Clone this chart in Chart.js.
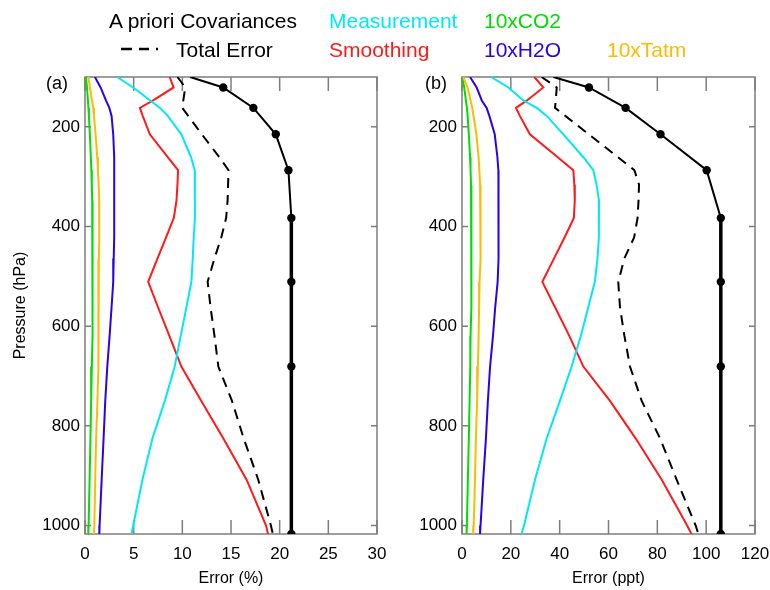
<!DOCTYPE html>
<html>
<head>
<meta charset="utf-8">
<script src="https://cdn.jsdelivr.net/npm/chart.js@4.4.1/dist/chart.umd.min.js"></script>
<style>
  body { margin: 0; background: #fff; }
  #page { position: relative; width: 770px; height: 590px; font-family: "Liberation Sans", Arial, Helvetica, sans-serif; }
  canvas { position: absolute; top: 0; }
  #chartA { left: 0; }
  #chartB { left: 385px; }
  .txt { position: absolute; white-space: nowrap; font-size: 21px; line-height: 21px; }
  .panel { position: absolute; font-size: 18px; line-height: 18px; color: #000; }
</style>
</head>
<body>
<div id="page">
  <canvas id="chartA" width="400" height="590"></canvas>
  <canvas id="chartB" width="385" height="590"></canvas>

  <div class="txt" style="left:109px; top:10px; color:#000">A priori Covariances</div>
  <div class="txt" style="left:329px; top:10px; color:#00e8f5">Measurement</div>
  <div class="txt" style="left:484px; top:10px; color:#00dd00">10xCO2</div>
  <svg style="position:absolute; left:120px; top:45px" width="42" height="8">
    <line x1="1" y1="4" x2="40" y2="4" stroke="#000" stroke-width="2.5" stroke-dasharray="11 7 10 7 2"/>
  </svg>
  <div class="txt" style="left:176px; top:39px; color:#000">Total Error</div>
  <div class="txt" style="left:329px; top:39px; color:#ff1a1a">Smoothing</div>
  <div class="txt" style="left:484px; top:39px; color:#2b00f0">10xH2O</div>
  <div class="txt" style="left:607px; top:39px; color:#ffbb00">10xTatm</div>

  <div class="panel" style="left:46px; top:74px">(a)</div>
  <div class="panel" style="left:425px; top:74px">(b)</div>
</div>
<script>
// pressure levels (hPa) shared by the error curves
const pressureLevels = [100, 121, 147, 162, 178, 215, 261, 287, 316, 348, 383, 422, 464, 511, 562, 619, 681, 750, 825, 908, 1000, 1017];
// levels of the a priori curve (marked points)
const aprioriLevels = [100, 121, 162, 215, 287, 383, 511, 681, 1017];
const pressureTicks = [200, 400, 600, 800, 1000];

// panel (a), error in %
const aprioriPct = [10.8, 14.2, 17.3, 19.6, 20.9, 21.2, 21.2, 21.2, 21.2];
const totalPct = [9.5, 10.3, 10.1, 10.0, 10.6, 12.0, 13.8, 14.75, 14.7, 14.65, 14.5, 14.0, 13.3, 12.6, 12.9, 13.3, 13.7, 15.1, 16.3, 17.8, 19.1, 19.3];
const measPct = [3.3, 4.95, 6.7, 7.7, 8.5, 9.9, 10.9, 11.27, 11.3, 11.3, 11.27, 11.17, 11.07, 10.93, 10.42, 9.84, 9.22, 8.2, 6.93, 5.9, 4.95, 4.78];
const smoothPct = [8.7, 9.1, 7.0, 5.64, 5.93, 6.66, 8.5, 9.56, 9.5, 9.4, 9.12, 8.33, 7.45, 6.49, 7.5, 8.66, 9.9, 11.95, 14.2, 16.6, 18.6, 18.8];
const co2Pct = [0.1, 0.2, 0.3, 0.35, 0.4, 0.5, 0.6, 0.65, 0.7, 0.74, 0.77, 0.79, 0.79, 0.78, 0.77, 0.76, 0.7, 0.63, 0.56, 0.47, 0.37, 0.34];
const h2oPct = [1.02, 1.6, 2.15, 2.5, 2.73, 2.9, 3.0, 3.0, 3.0, 3.0, 3.0, 3.0, 2.95, 2.9, 2.73, 2.53, 2.29, 2.08, 1.91, 1.71, 1.5, 1.47];
const tatmPct = [0.34, 0.51, 0.72, 0.85, 0.92, 1.09, 1.26, 1.33, 1.4, 1.45, 1.47, 1.45, 1.42, 1.4, 1.38, 1.37, 1.35, 1.28, 1.14, 1.05, 0.96, 0.92];
const pctTicks = [0, 5, 10, 15, 20, 25, 30];

// panel (b), error in ppt
const aprioriPpt = [37.4, 52.0, 67.0, 81.3, 100.2, 106.0, 106.0, 106.0, 106.0];
const totalPpt = [32.6, 38.8, 38.4, 38.1, 42.3, 51.9, 63.9, 70.6, 72.5, 72.3, 71.9, 70.5, 66.5, 64.0, 64.7, 66.5, 68.8, 73.6, 81.1, 87.9, 95.7, 96.8];
const measPpt = [11.9, 19.0, 25.1, 30.6, 34.7, 41.5, 49.7, 53.8, 55.1, 56.1, 56.1, 56.0, 55.5, 54.4, 51.7, 48.7, 44.9, 40.1, 34.7, 29.9, 25.4, 24.4];
const smoothPpt = [29.6, 33.3, 26.6, 22.1, 23.7, 27.8, 39.2, 45.6, 46.0, 46.2, 45.8, 42.0, 37.7, 32.9, 38.1, 43.9, 49.7, 60.6, 71.1, 81.8, 92.2, 94.0];
const co2Ppt = [0.1, 0.9, 1.6, 2.0, 2.3, 2.8, 3.3, 3.5, 3.7, 3.8, 3.9, 4.0, 3.9, 3.8, 3.7, 3.5, 3.4, 3.1, 2.8, 2.4, 2.0, 1.9];
const h2oPpt = [3.3, 6.0, 8.1, 10.1, 11.2, 13.4, 14.5, 14.9, 15.0, 15.0, 15.0, 15.0, 14.8, 14.6, 13.6, 12.7, 11.5, 10.6, 9.8, 8.7, 7.6, 7.4];
const tatmPpt = [0.5, 2.3, 3.5, 4.2, 4.7, 5.9, 6.8, 7.1, 7.4, 7.6, 7.7, 7.6, 7.5, 7.2, 7.0, 6.8, 6.5, 6.2, 5.7, 5.3, 4.8, 4.6];
const pptTicks = [0, 20, 40, 60, 80, 100, 120];

const colors = {
  apriori: "#000000",
  total: "#000000",
  meas: "#00e8f5",
  smooth: "#ff1a1a",
  co2: "#00dd00",
  h2o: "#2b00f0",
  tatm: "#ffbb00",
};

Chart.defaults.font.family = '"Liberation Sans", Arial, Helvetica, sans-serif';
Chart.defaults.color = "#000";

// frame with inward ticks on all four sides, like the original plot
const frameTicks = {
  id: "frameTicks",
  beforeDatasetsDraw(chart) {
    const { ctx, chartArea: a, scales: { x, y } } = chart;
    ctx.save();
    ctx.strokeStyle = "#7d7d7d";
    ctx.lineWidth = 1.5;
    ctx.beginPath();
    x.ticks.forEach((t) => {
      const px = x.getPixelForValue(t.value);
      ctx.moveTo(px, a.bottom); ctx.lineTo(px, a.bottom - 14);
      ctx.moveTo(px, a.top); ctx.lineTo(px, a.top + 14);
    });
    y.ticks.forEach((t) => {
      const py = y.getPixelForValue(t.value);
      ctx.moveTo(a.left, py); ctx.lineTo(a.left + 6, py);
      ctx.moveTo(a.right, py); ctx.lineTo(a.right - 6, py);
    });
    ctx.stroke();
    ctx.strokeRect(a.left, a.top, a.right - a.left, a.bottom - a.top);
    ctx.restore();
  },
};

function curve(values, levels, color, extra = {}) {
  return Object.assign({
    data: values.map((v, i) => ({ x: v, y: levels[i] })),
    borderColor: color,
    borderWidth: 2,
    pointRadius: 0,
    showLine: true,
    fill: false,
    tension: 0,
  }, extra);
}

// fixed axis sizes, no extra room for overhanging end labels
function fixSize(prop, size) {
  return (scale) => {
    scale[prop] = size;
    scale.paddingLeft = 0;
    scale.paddingRight = 0;
    scale.paddingTop = 0;
    scale.paddingBottom = 0;
  };
}

function makePanel(canvasId, s, xMax, xTicks, xTitle, yTitle, yWidth, padRight) {
  return new Chart(document.getElementById(canvasId), {
    type: "scatter",
    data: {
      datasets: [
        curve(s.apriori, aprioriLevels, colors.apriori, {
          pointRadius: aprioriLevels.map((p, i) => (i === 0 ? 0 : 4.2)),
          pointBackgroundColor: "#000",
          pointBorderWidth: 0,
          segment: { borderWidth: (ctx) => (ctx.p0.parsed.x === ctx.p1.parsed.x ? 3.5 : 2) },
        }),
        curve(s.total, pressureLevels, colors.total, { borderDash: [10, 7] }),
        curve(s.meas, pressureLevels, colors.meas),
        curve(s.smooth, pressureLevels, colors.smooth),
        curve(s.h2o, pressureLevels, colors.h2o),
        curve(s.tatm, pressureLevels, colors.tatm),
        curve(s.co2, pressureLevels, colors.co2),
      ],
    },
    options: {
      responsive: false,
      animation: false,
      layout: { padding: { left: 0, right: padRight, top: 77, bottom: 0 } },
      plugins: { legend: { display: false }, tooltip: { enabled: false } },
      scales: {
        x: {
          type: "linear",
          min: 0,
          max: xMax,
          grid: { display: false, drawTicks: false },
          border: { display: false },
          afterBuildTicks: (scale) => { scale.ticks = xTicks.map((v) => ({ value: v })); },
          afterFit: fixSize("height", 56),
          ticks: { font: { size: 17 }, padding: 10, maxRotation: 0, callback: (v) => String(v) },
          title: { display: true, text: xTitle, font: { size: 16 }, padding: { top: 0, bottom: 2 } },
        },
        y: {
          type: "linear",
          reverse: true,
          min: 100,
          max: 1017,
          grid: { display: false, drawTicks: false },
          border: { display: false },
          afterBuildTicks: (scale) => { scale.ticks = pressureTicks.map((v) => ({ value: v })); },
          afterFit: fixSize("width", yWidth),
          ticks: { font: { size: 17 }, padding: 5, callback: (v) => String(v) },
          title: { display: !!yTitle, text: yTitle, font: { size: 16 }, padding: { top: 11, bottom: 0 } },
        },
      },
    },
    plugins: [frameTicks],
  });
}

makePanel("chartA", {
  apriori: aprioriPct, total: totalPct, meas: measPct, smooth: smoothPct,
  co2: co2Pct, h2o: h2oPct, tatm: tatmPct,
}, 30, pctTicks, "Error (%)", "Pressure (hPa)", 85, 23);

makePanel("chartB", {
  apriori: aprioriPpt, total: totalPpt, meas: measPpt, smooth: smoothPpt,
  co2: co2Ppt, h2o: h2oPpt, tatm: tatmPpt,
}, 120, pptTicks, "Error (ppt)", "", 77, 15);
</script>
</body>
</html>
